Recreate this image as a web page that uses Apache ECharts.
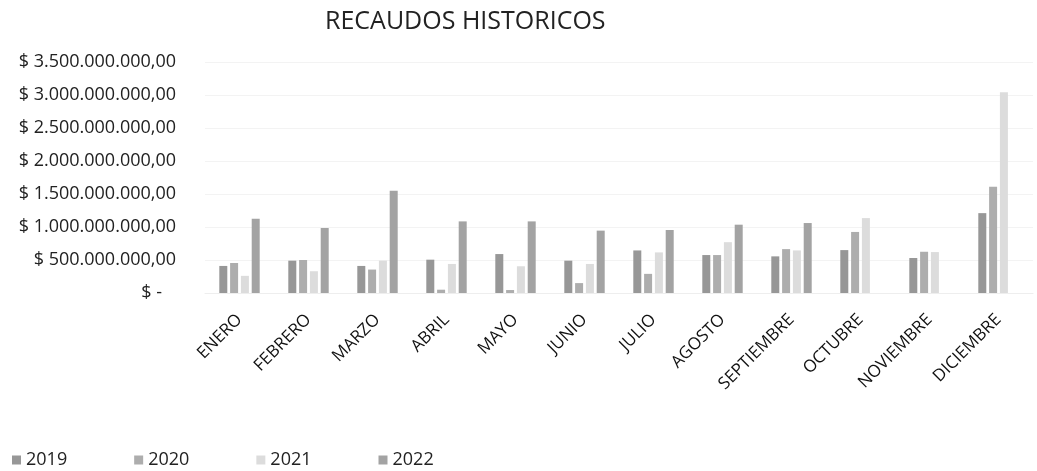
<!DOCTYPE html>
<html>
<head>
<meta charset="utf-8">
<script src="https://cdn.jsdelivr.net/npm/echarts@6/dist/echarts.min.js"></script>
<style>html,body{margin:0;padding:0;background:#fff;}#c{width:1037px;height:471px;}</style>
</head>
<body>
<div id="c"></div>
<script>
const categories = ['ENERO','FEBRERO','MARZO','ABRIL','MAYO','JUNIO','JULIO','AGOSTO','SEPTIEMBRE','OCTUBRE','NOVIEMBRE','DICIEMBRE'];
const years = ['2019','2020','2021','2022'];
const v2019 = [410e6, 490e6, 410e6, 505e6, 590e6, 490e6, 645e6, 575e6, 555e6, 650e6, 530e6, 1210e6];
const v2020 = [455e6, 500e6, 355e6, 50e6, 45e6, 150e6, 290e6, 575e6, 665e6, 925e6, 625e6, 1610e6];
const v2021 = [260e6, 330e6, 490e6, 440e6, 405e6, 440e6, 615e6, 770e6, 645e6, 1135e6, 620e6, 3040e6];
const v2022 = [1125e6, 985e6, 1550e6, 1085e6, 1085e6, 945e6, 955e6, 1035e6, 1060e6, null, null, null];
const yTicks = [0, 500e6, 1000e6, 1500e6, 2000e6, 2500e6, 3000e6, 3500e6];

const colors = ['#979797', '#adadad', '#dcdcdc', '#a3a3a3'];
const font = '"Open Sans", Lato, sans-serif';

function fmt(v) {
  if (v === 0) return '$ -   ';
  const s = Math.round(v).toString().replace(/\B(?=(\d{3})+(?!\d))/g, '.');
  return '$ ' + s + ',00';
}

const data = [v2019, v2020, v2021, v2022];
const chart = echarts.init(document.getElementById('c'));
chart.setOption({
  animation: false,
  color: colors,
  title: {
    text: 'RECAUDOS HISTORICOS',
    left: 320, top: 4,
    textStyle: { fontFamily: font, fontSize: 25, fontWeight: 'normal', color: '#222' }
  },
  legend: {
    data: years,
    left: 7, top: 446,
    itemWidth: 9, itemHeight: 9, itemGap: 67,
    icon: 'rect',
    textStyle: { fontFamily: font, fontSize: 18, color: '#222' }
  },
  grid: { left: 205, right: 4, top: 62, bottom: 178, containLabel: false },
  xAxis: {
    type: 'category',
    data: categories,
    axisLine: { lineStyle: { color: '#eeeeee' } },
    axisTick: { show: false },
    axisLabel: { rotate: 45, fontFamily: font, fontSize: 17, color: '#111', margin: 24, interval: 0 }
  },
  yAxis: {
    type: 'value',
    min: 0, max: 3500e6, interval: 500e6,
    axisLine: { show: false },
    axisTick: { show: false },
    splitLine: { lineStyle: { color: '#f3f3f3' } },
    axisLabel: {
      fontFamily: font, fontSize: 18, color: '#222', margin: 29,
      formatter: function (v) { return yTicks.indexOf(v) >= 0 ? fmt(v) : ''; }
    }
  },
  series: years.map((y, i) => ({
    name: y,
    type: 'bar',
    data: data[i],
    barWidth: 8,
    barGap: '35%',
    itemStyle: { color: colors[i] }
  }))
});
</script>
</body>
</html>
